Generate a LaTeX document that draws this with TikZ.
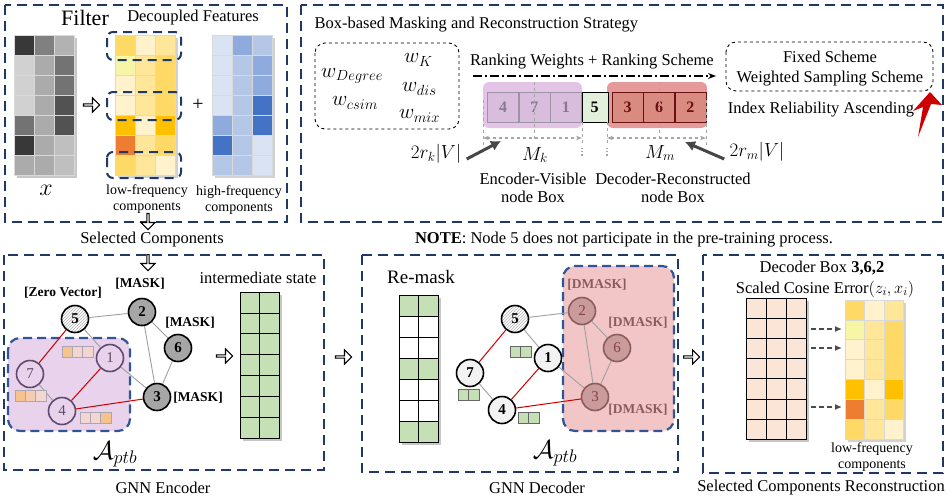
\documentclass[tikz,border=0pt]{standalone}
\usepackage{fix-cm}
\usepackage{fontspec}
\setmainfont{Liberation Serif}
\usepackage{amsmath, amssymb}
\usetikzlibrary{arrows.meta, positioning, shapes.arrows, patterns, calc}

\definecolor{navy}{HTML}{203864}
\definecolor{bnavy}{HTML}{2F5597}
\definecolor{lfA}{HTML}{FFD966}
\definecolor{lfB}{HTML}{FFE699}
\definecolor{lfC}{HTML}{FFF2CC}
\definecolor{lfD}{HTML}{FFC000}
\definecolor{lfE}{HTML}{ED7D31}
\definecolor{lfY}{HTML}{F6F6A6}
\definecolor{hfA}{HTML}{DAE3F3}
\definecolor{hfB}{HTML}{B4C7E7}
\definecolor{hfC}{HTML}{8FAADC}
\definecolor{hfD}{HTML}{4472C4}
\definecolor{pback}{HTML}{E8D2EC}
\definecolor{pbar}{HTML}{E3C4E7}
\definecolor{pcell}{HTML}{D9BDDC}
\definecolor{pdark}{HTML}{5E4A6C}
\definecolor{ptext}{HTML}{8A7696}
\definecolor{rbar}{HTML}{E59A9A}
\definecolor{rcell}{HTML}{D98B82}
\definecolor{rdark}{HTML}{6B1010}
\definecolor{rback}{HTML}{F2C6C6}
\definecolor{rnode}{HTML}{C99B9B}
\definecolor{rline}{HTML}{8B5C5C}
\definecolor{gcell}{HTML}{C5E0B4}
\definecolor{vcellc}{HTML}{E2EFDA}
\definecolor{peach}{HTML}{FBE5D6}
\definecolor{borA}{HTML}{F4C48C}
\definecolor{borB}{HTML}{F2D6D0}

\begin{document}
\begin{tikzpicture}[x=1pt, y=-1pt,
    panel/.style={draw=navy, line width=2.4pt, dash pattern=on 10pt off 6pt},
    backdrop/.style={draw=bnavy, line width=2.2pt, dash pattern=on 9pt off 5pt, rounded corners=12pt},
    bracket/.style={draw=navy, line width=2pt, dash pattern=on 9pt off 6pt, rounded corners=6pt},
    wbox/.style={draw, line width=0.9pt, dashed, rounded corners=10pt},
    hollow/.style={single arrow, draw, fill=white, line width=1.1pt, minimum height=16pt, minimum width=14pt, single arrow head extend=3pt, inner sep=0pt},
    label/.style={font=\fontsize{16.5}{18.5}\selectfont, align=center},
    small/.style={font=\fontsize{14}{16}\selectfont, align=center},
    tag/.style={font=\bfseries\fontsize{13.5}{15}\selectfont},
    wlabel/.style={font=\fontsize{21}{21}\selectfont, anchor=west, inner sep=0pt},
    gnode/.style={circle, draw, line width=1.6pt, minimum size=27pt, inner sep=0pt, font=\bfseries\fontsize{15}{15}\selectfont},
    hatch/.style={gnode, preaction={fill=white}, pattern=north east lines, pattern color=gray!60},
    masked/.style={gnode, fill=black!35},
    visible/.style={gnode, fill=pback, draw=pdark, text=pdark, font=\fontsize{15}{15}\selectfont},
    plain/.style={gnode, fill=black!5},
    recon/.style={gnode, fill=rnode, draw=rline, text=rdark!80, font=\fontsize{15}{15}\selectfont},
    edge/.style={draw=gray!75, line width=0.9pt},
    redge/.style={draw=red!80!black, line width=1pt},
    kcell/.style={draw=pdark!60, fill=pcell, minimum width=31pt, minimum height=30pt, inner sep=0pt, text=ptext, font=\bfseries\fontsize{16}{16}\selectfont},
    mcell/.style={draw=rdark, fill=rcell, minimum width=31pt, minimum height=30pt, inner sep=0pt, text=rdark, font=\bfseries\fontsize{16}{16}\selectfont},
    span/.style={gray!70, line width=1.2pt, dashed, {Stealth[length=6pt]}-{Stealth[length=6pt]}},
    guide/.style={gray!70, line width=1pt, dashed},
    pointer/.style={black!72, line width=3pt, -{Latex[length=10pt, width=11pt]}}
]
\useasboundingbox (0,0) rectangle (947,499);

% ---------------- Filter panel ----------------
\draw[panel] (5,5) rectangle (287,222);
\node[font=\fontsize{22}{22}\selectfont] (filter) at (85,18) {Filter};
\node[font=\fontsize{16.5}{17}\selectfont] (decoupled) at (193,18) {Decoupled Features};

% input matrix x
\fill[black!22] (17,38) rectangle (77,178);
\foreach \row [count=\r from 0] in {{black!78,black!50,black!30},{black!18,black!33,black!55},{black!18,black!33,black!55},{black!18,black!33,black!68},{black!55,black!33,black!68},{black!78,black!33,black!25},{black!33,black!33,black!25}} {
    \foreach \col [count=\c from 0] in \row {
        \filldraw[fill=\col, draw=black!15, line width=0.8pt] (14+\c*20,35+\r*20) rectangle ++(20,20);
    }
}
\node[font=\fontsize{24}{24}\selectfont] (xin) at (46,190) {$x$};

\node[hollow] (filtarr) at (91,105) {};

% low-frequency components
\fill[black!18] (118,38) rectangle (178,178);
\foreach \row [count=\r from 0] in {{lfA,lfC,lfB},{lfY,lfB,lfA},{lfC,lfB,lfA},{lfC,lfB,lfA},{lfD,lfC,lfD},{lfE,lfB,lfA},{lfA,lfB,lfC}} {
    \foreach \col [count=\c from 0] in \row {
        \filldraw[fill=\col, draw=black!15, line width=0.8pt] (115+\c*20,35+\r*20) rectangle ++(20,20);
    }
}
\draw[bracket] (107,32) rectangle (181,60);
\draw[bracket] (107,92) rectangle (181,120);
\draw[bracket] (107,152) rectangle (181,178);
\node[small] (lowf) at (147,199) {low-frequency\\components};

\node[font=\fontsize{20}{20}\selectfont] (plus) at (198,105) {+};

% high-frequency components
\fill[black!18] (215,38) rectangle (275,178);
\foreach \row [count=\r from 0] in {{hfA,hfC,hfB},{hfA,hfB,hfC},{hfA,hfB,hfC},{hfA,hfB,hfD},{hfC,hfB,hfD},{hfD,hfB,hfA},{hfB,hfB,hfA}} {
    \foreach \col [count=\c from 0] in \row {
        \filldraw[fill=\col, draw=black!15, line width=0.8pt] (212+\c*20,35+\r*20) rectangle ++(20,20);
    }
}
\node[small] (highf) at (239,200) {high-frequency\\components};

\node[hollow, rotate=-90] (filtdown) at (148,221) {};
\node[label] (selcomp) at (152,240) {Selected Components};

% ---------------- Box-based strategy panel ----------------
\draw[panel] (301,5) rectangle (943,222);
\node[label, anchor=west] (strategy) at (311,25) {Box-based Masking and Reconstruction Strategy};

% ranking weights
\draw[wbox] (315,43) rectangle (459,129);
\node[wlabel] (wdeg) at (321,76) {$w_{Degree}$};
\node[wlabel] (wk) at (404,60) {$w_{K}$};
\node[wlabel] (wdis) at (402,89) {$w_{dis}$};
\node[wlabel] (wcsim) at (332,103) {$w_{csim}$};
\node[wlabel] (wmix) at (399,116) {$w_{mix}$};

\node[label] (rankw) at (592,62) {Ranking Weights + Ranking Scheme};
\coordinate (rankstart) at (473,76);
\coordinate (rankend) at (716,76);
\draw[line width=1.5pt, dash pattern=on 9pt off 3pt on 2pt off 3pt, -{Stealth[length=8pt]}] (rankstart) -- (rankend);

% ranked nodes
\fill[pbar, rounded corners=6pt] (483,82) rectangle (582,128);
\fill[rbar, rounded corners=6pt] (607,82) rectangle (707,128);
\node[kcell] (k4) at (503,107) {4};
\node[kcell, right=0pt of k4] (k7) {7};
\node[kcell, right=0pt of k7] (k1) {1};
\node[draw, fill=vcellc, minimum width=26pt, minimum height=30pt, inner sep=0pt, font=\bfseries\fontsize{16}{16}\selectfont, right=0pt of k1] (k5) {5};
\node[mcell, right=4pt of k5] (m3) {3};
\node[mcell, right=0pt of m3] (m6) {6};
\node[mcell, right=0pt of m6] (m2) {2};

% box spans
\draw[guide] (483,100) -- (483,145);
\draw[guide] (k7.center |- 0,82) -- (k7.center |- 0,142);
\draw[guide] (582,122) -- (582,145);
\draw[guide] (607,122) -- (607,145);
\draw[guide] (m6.center |- 0,82) -- (m6.center |- 0,142);
\draw[guide] (706,100) -- (706,145);
\draw[gray!70, line width=1.2pt, dotted] (582,148) -- (582,156);
\draw[gray!70, line width=1.2pt, dotted] (607,148) -- (607,156);
\draw[span] (483,138) -- (582,138);
\draw[span] (607,138) -- (706,138);
\node[font=\fontsize{19}{19}\selectfont] (mk) at (535,155) {$M_k$};
\node[font=\fontsize{19}{19}\selectfont] (mm) at (660,153) {$M_m$};

\node[font=\fontsize{19}{19}\selectfont] (rk) at (436,154) {$2r_k|V|$};
\coordinate (rkend) at (501,141);
\draw[pointer] (rk.east) ++(2,5) -- (rkend);
\node[font=\fontsize{19}{19}\selectfont] (rm) at (757,152) {$2r_m|V|$};
\coordinate (rmend) at (685,142);
\draw[pointer] (rm.west) ++(-2,7) -- (rmend);

\node[label] (encbox) at (533,188) {Encoder-Visible\\node Box};
\node[label] (decbox) at (673,188) {Decoder-Reconstructed\\node Box};

% scheme box
\draw[wbox] (726,42) rectangle (933,91);
\node[label] (fixed) at (830,57) {Fixed Scheme};
\node[label] (weighted) at (830,79) {Weighted Sampling Scheme};
\node[label] (ascend) at (821,110) {Index Reliability Ascending};
\fill[red!80!black] (930,92) -- (942,105) -- (931,104) -- (918,137) -- (923,107) -- (913,111) -- cycle;

\node[label] (note) at (624,240) {\textbf{NOTE}: Node 5 does not participate in the pre-training process.};

% ---------------- GNN Encoder ----------------
\draw[panel] (4,255) rectangle (324,470);
\node[hollow, rotate=-90] (encin) at (148,262) {};
\draw[backdrop, fill=pback] (8,338) rectangle (130,431);

\node[hatch] (e5) at (75,319) {5};
\node[masked] (e2) at (142,312) {2};
\node[masked] (e6) at (178,348) {6};
\node[visible] (e1) at (110,358) {1};
\node[visible] (e7) at (30,374) {7};
\node[masked] (e3) at (157,397) {3};
\node[visible] (e4) at (62,411) {4};

\draw[edge] (e5) -- (e2);
\draw[edge] (e5) -- (e1);
\draw[edge] (e2) -- (e6);
\draw[edge] (e2) -- (e3);
\draw[edge] (e6) -- (e3);
\draw[edge] (e1) -- (e3);
\draw[edge] (e7) -- (e4);
\draw[redge] (e5) -- (e7);
\draw[redge] (e1) -- (e4);
\draw[redge] (e4) -- (e3);

\node[tag] (zero) at (63,293) {[Zero Vector]};
\node[tag] (mask2) at (140,284) {[MASK]};
\node[tag] (mask6) at (190,323) {[MASK]};
\node[tag] (mask3) at (198,398) {[MASK]};

% perturbed features
\foreach \col [count=\c from 0] in {borA,borB,borB} {
    \filldraw[fill=\col, draw=pdark!50, line width=0.7pt] (62+\c*10.3,346) rectangle ++(10.3,11);
}
\foreach \col [count=\c from 0] in {borA,borA!50!borB,borB} {
    \filldraw[fill=\col, draw=pdark!50, line width=0.7pt] (15+\c*10.3,390) rectangle ++(10.3,11);
}
\foreach \col [count=\c from 0] in {borB,borB,borA} {
    \filldraw[fill=\col, draw=pdark!50, line width=0.7pt] (80+\c*10.3,412) rectangle ++(10.3,11);
}
\node[font=\fontsize{26}{26}\selectfont] (aenc) at (115,454) {$\mathcal{A}_{ptb}$};

\node[hollow] (encmid) at (224,356) {};
\node[label] (inter) at (258,278) {intermediate state};
\fill[black!22] (243,295) rectangle (282,441);
\foreach \r in {0,...,6} {
    \foreach \c in {0,1} {
        \filldraw[fill=gcell, draw=black, line width=0.8pt] (240+\c*19.5,292+\r*20.9) rectangle ++(19.5,20.9);
    }
}
\node[label] (gnnenc) at (163,488) {GNN Encoder};

\node[hollow] (toenc) at (343,357) {};

% ---------------- GNN Decoder ----------------
\draw[panel] (362,255) rectangle (678,472);
\node[font=\fontsize{19}{19}\selectfont] (remask) at (421,277) {Re-mask};
\fill[black!22] (402,298) rectangle (441,445);
\foreach \col [count=\r from 0] in {gcell,white,white,gcell,white,white,gcell} {
    \foreach \c in {0,1} {
        \filldraw[fill=\col, draw=black, line width=0.8pt] (399+\c*19.5,295+\r*21) rectangle ++(19.5,21);
    }
}
\draw[backdrop, fill=rback] (563,266) rectangle (674,431);

\node[hatch] (d5) at (515,319) {5};
\node[recon] (d2) at (582,311) {2};
\node[recon] (d6) at (617,348) {6};
\node[plain] (d1) at (548,358) {1};
\node[plain] (d7) at (470,373) {7};
\node[recon] (d3) at (595,397) {3};
\node[plain] (d4) at (502,410) {4};

\draw[edge] (d5) -- (d2);
\draw[edge] (d5) -- (d1);
\draw[edge] (d2) -- (d6);
\draw[edge] (d2) -- (d3);
\draw[edge] (d6) -- (d3);
\draw[edge] (d1) -- (d3);
\draw[edge] (d7) -- (d4);
\draw[redge] (d5) -- (d7);
\draw[redge] (d1) -- (d4);
\draw[redge] (d4) -- (d3);

\node[tag, text=rline] (dmask2) at (597,285) {[DMASK]};
\node[tag, text=rline] (dmask6) at (638,323) {[DMASK]};
\node[tag, text=rline] (dmask3) at (638,410) {[DMASK]};

% hidden codes
\foreach \x/\y in {510/346, 458/389, 518/412} {
    \foreach \c in {0,1} {
        \filldraw[fill=gcell, draw=black!60, line width=0.7pt] (\x+\c*10.5,\y) rectangle ++(10.5,11);
    }
}
\node[font=\fontsize{26}{26}\selectfont] (adec) at (555,453) {$\mathcal{A}_{ptb}$};
\node[label] (gnndec) at (537,488) {GNN Decoder};

\node[hollow] (todec) at (691,357) {};

% ---------------- Reconstruction ----------------
\draw[panel] (703,255) rectangle (943,473);
\node[label] (dbox) at (822,268) {Decoder Box \textbf{3,6,2}};
\node[label] (sce) at (825,289) {Scaled Cosine Error$(z_i,x_i)$};
\fill[black!22] (749,301) rectangle (809,442);
\foreach \r in {0,...,6} {
    \foreach \c in {0,1,2} {
        \filldraw[fill=peach, draw=black, line width=0.8pt] (746+\c*20,298+\r*20.2) rectangle ++(20,20.2);
    }
}
\fill[black!18] (848,303) rectangle (906,442);
\foreach \row [count=\r from 0] in {{lfA,lfC,lfB},{lfY,lfB,lfA},{lfC,lfB,lfA},{lfC,lfB,lfA},{lfD,lfC,lfD},{lfE,lfB,lfA},{lfA,lfB,lfC}} {
    \foreach \col [count=\c from 0] in \row {
        \filldraw[fill=\col, draw=black!15, line width=0.8pt] (845+\c*19.5,300+\r*19.9) rectangle ++(19.5,19.9);
    }
}
\foreach \y in {329,348,407} {
    \draw[black!70, line width=1.3pt, dash pattern=on 5pt off 3pt, -{Latex[length=7pt, width=6pt]}] (811,\y) -- (842,\y);
}
\node[small] (lowf2) at (872,457) {low-frequency\\components};
\node[label] (selrec) at (821,488) {Selected Components Reconstruction};

\end{tikzpicture}
\end{document}
